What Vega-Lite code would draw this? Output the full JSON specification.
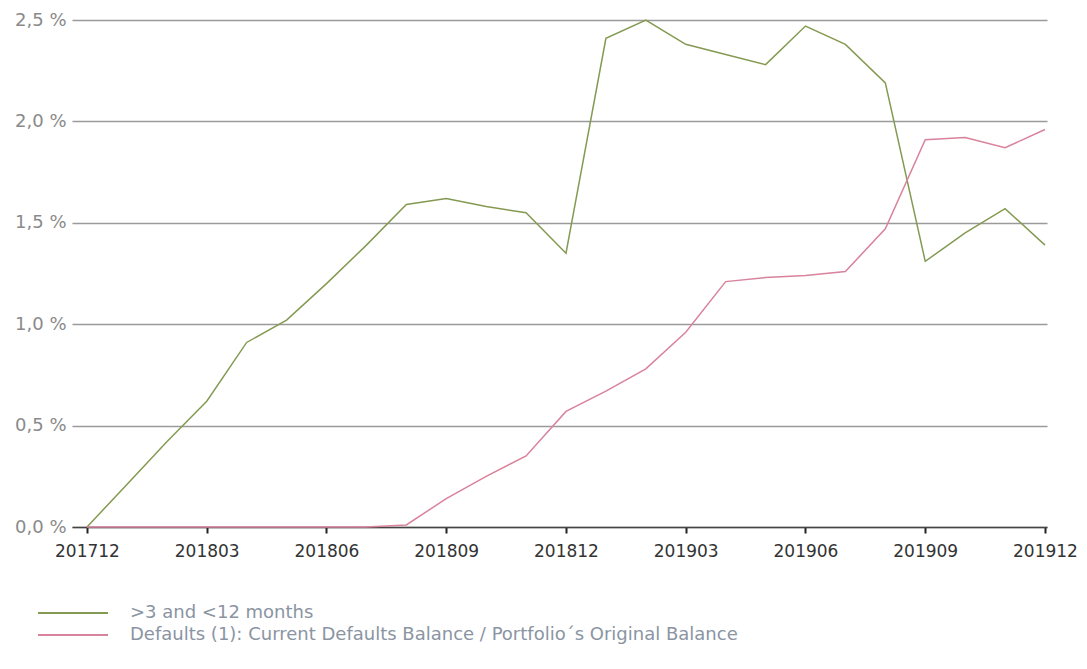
{
  "$schema": "https://vega.github.io/schema/vega-lite/v6.json",
  "width": 975,
  "height": 507,
  "autosize": "none",
  "padding": {"left": 72, "top": 20, "right": 40, "bottom": 142},
  "background": "white",
  "config": {"view": {"stroke": null}, "font": "DejaVu Sans"},
  "data": {
    "values": [
      {"month": "201712", "series": ">3 and <12 months", "value": 0.0},
      {"month": "201801", "series": ">3 and <12 months", "value": 0.21},
      {"month": "201802", "series": ">3 and <12 months", "value": 0.42},
      {"month": "201803", "series": ">3 and <12 months", "value": 0.62},
      {"month": "201804", "series": ">3 and <12 months", "value": 0.91},
      {"month": "201805", "series": ">3 and <12 months", "value": 1.02},
      {"month": "201806", "series": ">3 and <12 months", "value": 1.2},
      {"month": "201807", "series": ">3 and <12 months", "value": 1.39},
      {"month": "201808", "series": ">3 and <12 months", "value": 1.59},
      {"month": "201809", "series": ">3 and <12 months", "value": 1.62},
      {"month": "201810", "series": ">3 and <12 months", "value": 1.58},
      {"month": "201811", "series": ">3 and <12 months", "value": 1.55},
      {"month": "201812", "series": ">3 and <12 months", "value": 1.35},
      {"month": "201901", "series": ">3 and <12 months", "value": 2.41},
      {"month": "201902", "series": ">3 and <12 months", "value": 2.5},
      {"month": "201903", "series": ">3 and <12 months", "value": 2.38},
      {"month": "201904", "series": ">3 and <12 months", "value": 2.33},
      {"month": "201905", "series": ">3 and <12 months", "value": 2.28},
      {"month": "201906", "series": ">3 and <12 months", "value": 2.47},
      {"month": "201907", "series": ">3 and <12 months", "value": 2.38},
      {"month": "201908", "series": ">3 and <12 months", "value": 2.19},
      {"month": "201909", "series": ">3 and <12 months", "value": 1.31},
      {"month": "201910", "series": ">3 and <12 months", "value": 1.45},
      {"month": "201911", "series": ">3 and <12 months", "value": 1.57},
      {"month": "201912", "series": ">3 and <12 months", "value": 1.39},
      {"month": "201712", "series": "Defaults (1): Current Defaults Balance / Portfolio´s Original Balance", "value": 0.0},
      {"month": "201801", "series": "Defaults (1): Current Defaults Balance / Portfolio´s Original Balance", "value": 0.0},
      {"month": "201802", "series": "Defaults (1): Current Defaults Balance / Portfolio´s Original Balance", "value": 0.0},
      {"month": "201803", "series": "Defaults (1): Current Defaults Balance / Portfolio´s Original Balance", "value": 0.0},
      {"month": "201804", "series": "Defaults (1): Current Defaults Balance / Portfolio´s Original Balance", "value": 0.0},
      {"month": "201805", "series": "Defaults (1): Current Defaults Balance / Portfolio´s Original Balance", "value": 0.0},
      {"month": "201806", "series": "Defaults (1): Current Defaults Balance / Portfolio´s Original Balance", "value": 0.0},
      {"month": "201807", "series": "Defaults (1): Current Defaults Balance / Portfolio´s Original Balance", "value": 0.0},
      {"month": "201808", "series": "Defaults (1): Current Defaults Balance / Portfolio´s Original Balance", "value": 0.01},
      {"month": "201809", "series": "Defaults (1): Current Defaults Balance / Portfolio´s Original Balance", "value": 0.14},
      {"month": "201810", "series": "Defaults (1): Current Defaults Balance / Portfolio´s Original Balance", "value": 0.25},
      {"month": "201811", "series": "Defaults (1): Current Defaults Balance / Portfolio´s Original Balance", "value": 0.35},
      {"month": "201812", "series": "Defaults (1): Current Defaults Balance / Portfolio´s Original Balance", "value": 0.57},
      {"month": "201901", "series": "Defaults (1): Current Defaults Balance / Portfolio´s Original Balance", "value": 0.67},
      {"month": "201902", "series": "Defaults (1): Current Defaults Balance / Portfolio´s Original Balance", "value": 0.78},
      {"month": "201903", "series": "Defaults (1): Current Defaults Balance / Portfolio´s Original Balance", "value": 0.96},
      {"month": "201904", "series": "Defaults (1): Current Defaults Balance / Portfolio´s Original Balance", "value": 1.21},
      {"month": "201905", "series": "Defaults (1): Current Defaults Balance / Portfolio´s Original Balance", "value": 1.23},
      {"month": "201906", "series": "Defaults (1): Current Defaults Balance / Portfolio´s Original Balance", "value": 1.24},
      {"month": "201907", "series": "Defaults (1): Current Defaults Balance / Portfolio´s Original Balance", "value": 1.26},
      {"month": "201908", "series": "Defaults (1): Current Defaults Balance / Portfolio´s Original Balance", "value": 1.47},
      {"month": "201909", "series": "Defaults (1): Current Defaults Balance / Portfolio´s Original Balance", "value": 1.91},
      {"month": "201910", "series": "Defaults (1): Current Defaults Balance / Portfolio´s Original Balance", "value": 1.92},
      {"month": "201911", "series": "Defaults (1): Current Defaults Balance / Portfolio´s Original Balance", "value": 1.87},
      {"month": "201912", "series": "Defaults (1): Current Defaults Balance / Portfolio´s Original Balance", "value": 1.96}
    ]
  },
  "mark": {"type": "line", "strokeWidth": 1.5},
  "encoding": {
    "x": {
      "field": "month",
      "type": "ordinal",
      "sort": "ascending",
      "scale": {"type": "point", "padding": 0.213, "align": 0.882},
      "axis": {
        "title": null,
        "values": ["201712", "201803", "201806", "201809", "201812", "201903", "201906", "201909", "201912"],
        "labelAngle": 0,
        "labelFontSize": 17,
        "labelColor": "#333333",
        "labelPadding": 10,
        "tickColor": "#222222",
        "tickSize": 6,
        "tickWidth": 2,
        "domainColor": "#444444",
        "domainWidth": 1.5,
        "grid": false
      }
    },
    "y": {
      "field": "value",
      "type": "quantitative",
      "scale": {"domain": [0, 2.5], "nice": false, "zero": true},
      "axis": {
        "title": null,
        "values": [0, 0.5, 1, 1.5, 2, 2.5],
        "labelExpr": "replace(format(datum.value, '.1f'), '.', ',') + ' %'",
        "labelFontSize": 18,
        "labelColor": "#8a8a8a",
        "labelPadding": 6,
        "ticks": false,
        "domain": false,
        "grid": true,
        "gridColor": "#9a9a9a",
        "gridWidth": 1.5
      }
    },
    "color": {
      "field": "series",
      "type": "nominal",
      "sort": null,
      "scale": {
        "domain": [">3 and <12 months", "Defaults (1): Current Defaults Balance / Portfolio´s Original Balance"],
        "range": ["#849a52", "#d9829c"]
      },
      "legend": {
        "title": null,
        "orient": "none",
        "legendX": -8,
        "legendY": 584,
        "direction": "vertical",
        "symbolType": "M-5,0H5",
        "symbolSize": 196,
        "symbolStrokeWidth": 2,
        "symbolStrokeColor": "#7d8585",
        "labelFontSize": 18,
        "labelColor": "#8a94a2",
        "labelOffset": 48,
        "labelLimit": 900,
        "rowPadding": 4
      }
    }
  }
}
